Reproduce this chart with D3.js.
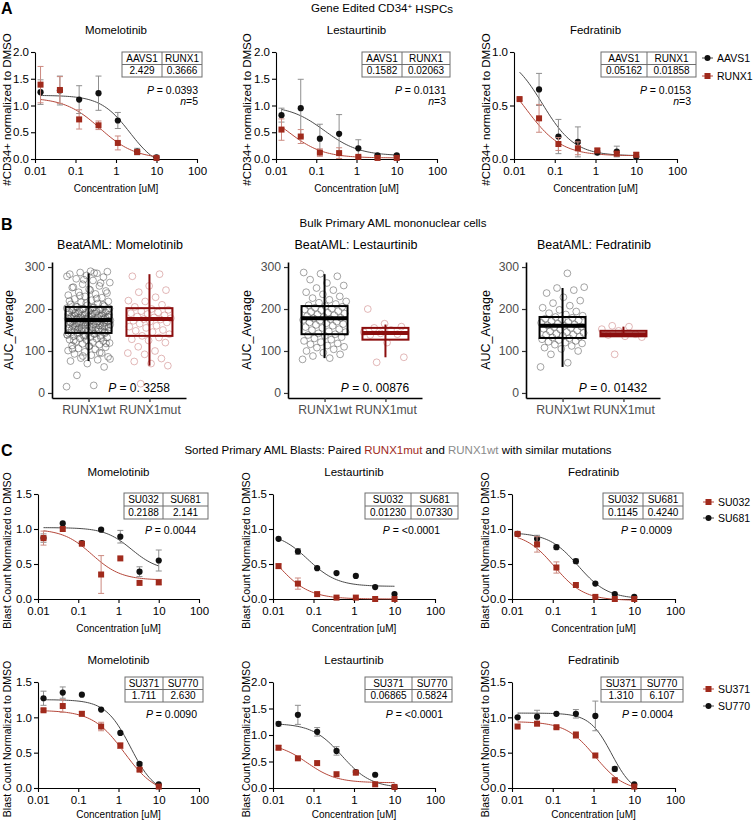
<!DOCTYPE html>
<html lang="en">
<head>
<meta charset="utf-8">
<title>RUNX1 loss and JAK inhibitor sensitivity</title>
<script src="https://cdn.jsdelivr.net/npm/d3@7"></script>
<style>
  body { margin: 0; background: #fff; }
  svg { display: block; font-family: "Liberation Sans", Arial, Helvetica, sans-serif; }
</style>
</head>
<body>
<script>
// ---- data --------------------------------------------------------------
// 3-fold dilution series (uM) shared by every dose-response plot
var conc = [0.0137, 0.0412, 0.123, 0.370, 1.11, 3.33, 10];

// A: gene edited CD34+ HSPCs (mean, sem), AAVS1 = control, RUNX1 = edited
var aavs1Mom = [1.25, 1.28, 1.11, 1.23, 0.72, 0.14, 0.03];
var aavs1MomErr = [0.23, 0.27, 0.26, 0.32, 0.15, 0.06, 0];
var runx1Mom = [1.39, 1.29, 0.74, 0.63, 0.30, 0.13, 0.02];
var runx1MomErr = [0.34, 0.25, 0.18, 0.08, 0.13, 0.04, 0];
var aavs1Les = [0.82, 0.95, 0.38, 0.47, 0.20, 0.07, 0.07];
var aavs1LesErr = [0.13, 0.54, 0.27, 0.36, 0.16, 0.02, 0.02];
var runx1Les = [0.55, 0.42, 0.12, 0.11, 0.04, 0.02, 0.02];
var runx1LesErr = [0.20, 0.13, 0.07, 0.10, 0.02, 0.01, 0.01];
var aavs1Fed = [null, 0.65, 0.21, 0.16, 0.06, 0.07, 0.02];
var aavs1FedErr = [0, 0.15, 0.16, 0.14, 0.02, 0.05, 0.02];
var runx1Fed = [0.56, 0.38, 0.14, 0.10, 0.08, 0.05, 0.04];
var runx1FedErr = [0.01, 0.13, 0.06, 0.06, 0.02, 0.02, 0.02];

// fitted curves: [top, bottom, IC50, hill]
var fitA = {
  aavs1Mom: [1.19, -0.2, 2.2, 1.2], runx1Mom: [1.15, 0, 0.4, 1.0],
  aavs1Les: [1.0, 0.06, 0.16, 1.0], runx1Les: [1.0, 0.02, 0.02, 1.0],
  aavs1Fed: [1.0, 0.03, 0.05, 1.1], runx1Fed: [0.9, 0.03, 0.02, 1.0]
};
var icHeadsA = ["AAVS1", "RUNX1"];
var icMomA = ["2.429", "0.3666"];
var icLesA = ["0.1582", "0.02063"];
var icFedA = ["0.05162", "0.01858"];
var pA = ["0.0393", "0.0131", "0.0153"];
var nA = ["5", "3", "3"];

// B: BeatAML AUC values
var momWt = [15, 18, 42, 62, 70, 76, 79, 83, 86, 90, 93, 95, 98, 101, 104, 106, 109, 111, 113, 115, 117, 119, 121, 122, 124, 126, 127, 129, 130, 132, 133, 135, 136, 137, 139, 140, 141, 142, 143, 144, 146, 147, 148, 149, 151, 152, 153, 154, 155, 156, 158, 159, 160, 161, 162, 163, 164, 166, 167, 168, 169, 170, 171, 172, 173, 174, 175, 176, 177, 178, 179, 180, 182, 183, 184, 185, 186, 188, 189, 190, 191, 193, 194, 195, 196, 198, 199, 200, 201, 202, 204, 205, 207, 209, 211, 213, 216, 218, 221, 224, 227, 230, 233, 236, 240, 243, 247, 251, 255, 259, 263, 268, 272, 276, 280, 283, 285, 287, 289, 290,
  125, 131, 134, 138, 141, 144, 145, 147, 150, 152, 154, 156, 157, 159, 161, 162, 164, 165, 166, 168, 169, 170, 171, 172, 173, 174, 175, 176, 177, 178, 179, 180, 181, 182, 184, 185, 186, 187, 189, 190, 192, 194, 196, 197, 199, 201, 203, 206, 210, 214, 219, 225, 232, 238, 245, 252, 262, 270, 278, 286, 150, 158, 163, 167, 171, 176, 181, 186, 191, 198, 137, 143, 148, 153, 118, 112, 105, 96, 88, 81];
var momMut = [22, 65, 70, 75, 82, 92, 95, 100, 110, 120, 125, 128, 132, 136, 140, 145, 148, 150, 155, 158, 160, 165, 168, 170, 172, 175, 176, 178, 180, 182, 185, 188, 190, 192, 195, 198, 200, 205, 210, 218, 220, 228, 240, 245, 255, 278, 283];
var lesWt = [80, 83, 88, 92, 96, 100, 104, 108, 110, 113, 116, 118, 121, 124, 127, 130, 133, 136, 138, 140, 142, 145, 147, 150, 152, 155, 157, 160, 162, 164, 166, 168, 170, 172, 174, 176, 178, 179, 181, 183, 185, 187, 189, 191, 193, 195, 197, 199, 201, 203, 205, 207, 209, 212, 215, 218, 222, 226, 230, 235, 240, 245, 250, 256, 262, 270, 278, 284, 287];
var lesMut = [73, 85, 120, 138, 140, 142, 145, 150, 155, 158, 165, 200];
var fedWt = [62, 72, 92, 100, 105, 108, 112, 115, 118, 120, 122, 124, 126, 128, 130, 132, 134, 136, 138, 139, 141, 143, 145, 147, 149, 151, 153, 155, 157, 158, 160, 161, 163, 165, 167, 169, 171, 173, 175, 177, 179, 181, 184, 187, 190, 194, 198, 203, 208, 214, 220, 228, 238, 245, 250, 252, 285];
var fedMut = [92, 133, 135, 138, 140, 148, 152, 158, 160];
// box stats: [lower whisker, q1, median, q3, upper whisker]
var momWtBox = [76, 143, 174, 205, 285], momMutBox = [65, 136, 176, 202, 283];
var lesWtBox = [83, 140, 178, 207, 283], lesMutBox = [85, 127, 143, 155, 163];
var fedWtBox = [62, 131, 160, 181, 250], fedMutBox = [135, 135, 140, 148, 158];
var groupsB = ["RUNX1wt", "RUNX1mut"];
var pB = ["0. 3258", "0. 00876", "0. 01432"];

// C: sorted AML blasts, pair 1 (SU032 mut / SU681 wt), pair 2 (SU371 mut / SU770 wt)
var su032Mom = [0.87, 1.00, 0.79, 0.35, 0.58, 0.23, 0.24], su032MomErr = [0.10, 0, 0.02, 0.27, 0, 0, 0.04];
var su681Mom = [0.87, 1.08, 0.80, 0.99, 0.89, 0.39, 0.55], su681MomErr = [0.06, 0, 0.02, 0.02, 0.09, 0.07, 0.15];
var su032Les = [0.47, 0.22, 0.07, 0.02, 0.02, 0.0, 0.0], su032LesErr = [0.03, 0.08, 0, 0, 0, 0, 0];
var su681Les = [0.86, 0.68, 0.44, 0.37, 0.33, 0.17, 0.07], su681LesErr = [0, 0.04, 0, 0, 0, 0, 0];
var su032Fed = [0.93, 0.78, 0.45, 0.20, 0.03, 0.0, 0.0], su032FedErr = [0.02, 0.11, 0.08, 0, 0, 0, 0];
var su681Fed = [0.93, 0.86, 0.74, 0.54, 0.22, 0.07, 0.03], su681FedErr = [0.02, 0.05, 0.03, 0.03, 0, 0, 0];
var su371Mom = [1.10, 1.16, 1.05, 0.87, 0.60, 0.26, 0.02], su371MomErr = [0.02, 0.09, 0.03, 0.06, 0.04, 0.02, 0];
var su770Mom = [1.27, 1.35, 1.32, 1.11, 0.78, 0.34, 0.05], su770MomErr = [0.10, 0.08, 0, 0, 0, 0.02, 0];
var su371Les = [0.76, 0.56, 0.47, 0.26, 0.29, 0.07, 0.02], su371LesErr = [0.04, 0, 0, 0, 0.04, 0, 0];
var su770Les = [1.21, 1.38, 1.06, 0.70, 0.30, 0.25, 0.02], su770LesErr = [0.04, 0.18, 0.08, 0.08, 0, 0, 0];
var su371Fed = [0.87, 0.91, 0.86, 0.75, 0.46, 0.11, 0.02], su371FedErr = [0, 0, 0.02, 0.05, 0, 0, 0];
var su770Fed = [1.00, 1.01, 1.05, 1.05, 1.02, 0.27, 0.05], su770FedErr = [0, 0.09, 0, 0.06, 0.21, 0.03, 0];
var fitC = {
  su681Mom: [1.02, 0.4, 2.1, 1.3], su032Mom: [1.0, 0.27, 0.22, 1.2],
  su681Les: [0.95, 0.18, 0.073, 1.2], su032Les: [1.0, 0, 0.0123, 1.1],
  su681Fed: [0.95, 0, 0.42, 1.2], su032Fed: [0.95, -0.02, 0.11, 1.2],
  su770Mom: [1.25, -0.1, 2.0, 1.4], su371Mom: [1.1, -0.1, 1.4, 1.1],
  su770Les: [1.22, 0, 0.5, 1.2], su371Les: [0.85, 0.1, 0.07, 1.2],
  su770Fed: [1.06, -0.1, 2.8, 1.6], su371Fed: [0.94, -0.05, 1.1, 1.2]
};
var icHeadsC1 = ["SU032", "SU681"], icHeadsC2 = ["SU371", "SU770"];
var icMomC1 = ["0.2188", "2.141"], icLesC1 = ["0.01230", "0.07330"], icFedC1 = ["0.1145", "0.4240"];
var icMomC2 = ["1.711", "2.630"], icLesC2 = ["0.06865", "0.5824"], icFedC2 = ["1.310", "6.107"];
var pC1 = ["0.0044", "<0.0001", "0.0009"];
var pC2 = ["0.0090", "<0.0001", "0.0004"];
var drugs = ["Momelotinib", "Lestaurtinib", "Fedratinib"];

// ---- style -------------------------------------------------------------
var RED = "#a02a1c", RED_LINE = "#b5473a", RED_ERR = "#cc8a80";
var BLK = "#111111", BLK_LINE = "#4a4a4a", BLK_ERR = "#8f8f8f";

var svg = d3.select("body").append("svg")
    .attr("width", 754)
    .attr("height", 822);

function fourPL(p) {
  return function(x) { return p[1] + (p[0] - p[1]) / (1 + Math.pow(x / p[2], p[3])); };
}

// italic symbol followed by plain text, e.g. "P = 0.01"
function italicLabel(sel, label, value) {
  sel.append("tspan").style("font-style", "italic").text(label);
  sel.append("tspan").text(value);
}

// dose-response plot in GraphPad style
function doseChart(o) {
  var x = d3.scaleLog().domain([0.01, 100]).range([o.x0, o.x1]);
  var y = d3.scaleLinear().domain([0, o.yMax]).range([o.yb, o.yt]);
  var g = svg.append("g");

  var xa = g.append("g").attr("transform", "translate(0," + o.yb + ")")
      .call(d3.axisBottom(x).tickValues([0.01, 0.1, 1, 10, 100])
        .tickFormat(function(d) { return String(d); }).tickSize(4).tickPadding(2).tickSizeOuter(0));
  var ya = g.append("g").attr("transform", "translate(" + o.x0 + ",0)")
      .call(d3.axisLeft(y).tickValues(o.yTicks).tickFormat(d3.format(".1f")).tickSize(4).tickPadding(2).tickSizeOuter(0));
  [xa, ya].forEach(function(a) {
    a.selectAll("path, line").attr("stroke", "#000").attr("stroke-width", 1.1);
    a.selectAll("text").attr("fill", "#000").style("font-size", "11.5px").style("font-family", "inherit");
  });
  xa.selectAll("text").attr("dy", "0.9em");

  g.append("text").attr("x", (o.x0 + o.x1) / 2).attr("y", o.yt - 18)
    .attr("text-anchor", "middle").style("font-size", "11.5px").text(o.title);
  g.append("text").attr("x", (o.x0 + o.x1) / 2).attr("y", o.yb + o.xlabOff)
    .attr("text-anchor", "middle").style("font-size", "10px").text("Concentration [uM]");
  g.append("text").attr("transform", "translate(" + o.ylabX + "," + ((o.yt + o.yb) / 2 + 4) + ") rotate(-90)")
    .attr("text-anchor", "middle").style("font-size", o.ylabSize).text(o.ylab);

  // fitted curves
  var xs = d3.range(0, 61).map(function(i) {
    return Math.pow(10, Math.log10(conc[0]) + i / 60 * (1 - Math.log10(conc[0])));
  });
  o.series.forEach(function(s) {
    var f = fourPL(s.fit);
    g.append("path")
      .datum(xs)
      .attr("fill", "none")
      .attr("stroke", s.red ? RED_LINE : BLK_LINE)
      .attr("stroke-width", 1)
      .attr("d", d3.line().x(function(d) { return x(d); }).y(function(d) { return y(Math.max(f(d), -0.02)); }));
  });

  // error bars then markers
  o.series.forEach(function(s) {
    var pts = conc.map(function(c, i) { return {c: c, v: s.mean[i], e: s.err[i]}; })
      .filter(function(d) { return d.v !== null; });
    var eb = g.append("g").attr("stroke", s.red ? RED_ERR : BLK_ERR).attr("stroke-width", 1);
    pts.filter(function(d) { return d.e > 0; }).forEach(function(d) {
      var cx = x(d.c), y1 = y(Math.max(d.v - d.e, 0)), y2 = y(d.v + d.e);
      eb.append("line").attr("x1", cx).attr("x2", cx).attr("y1", y1).attr("y2", y2);
      eb.append("line").attr("x1", cx - 3).attr("x2", cx + 3).attr("y1", y1).attr("y2", y1);
      eb.append("line").attr("x1", cx - 3).attr("x2", cx + 3).attr("y1", y2).attr("y2", y2);
    });
    if (s.red) {
      g.selectAll(null).data(pts).enter().append("rect")
        .attr("x", function(d) { return x(d.c) - 3; })
        .attr("y", function(d) { return y(d.v) - 3; })
        .attr("width", 6).attr("height", 6).attr("fill", RED);
    } else {
      g.selectAll(null).data(pts).enter().append("circle")
        .attr("cx", function(d) { return x(d.c); })
        .attr("cy", function(d) { return y(d.v); })
        .attr("r", 3.1).attr("fill", BLK);
    }
  });

  // IC50 table
  var tb = g.append("g").attr("transform", "translate(" + o.tx + "," + o.ty + ")");
  var tw = o.tw[0] + o.tw[1], th = o.th;
  tb.append("rect").attr("width", tw).attr("height", th).attr("fill", "#fff")
    .attr("stroke", "#6e6e6e").attr("stroke-width", 1);
  tb.append("line").attr("x1", o.tw[0]).attr("x2", o.tw[0]).attr("y1", 0).attr("y2", th).attr("stroke", "#6e6e6e");
  tb.append("line").attr("x1", 0).attr("x2", tw).attr("y1", th / 2).attr("y2", th / 2).attr("stroke", "#6e6e6e");
  [o.heads, o.vals].forEach(function(row, r) {
    row.forEach(function(t, c) {
      tb.append("text")
        .attr("x", c === 0 ? o.tw[0] / 2 : o.tw[0] + o.tw[1] / 2)
        .attr("y", th / 4 + r * th / 2)
        .attr("dy", "0.36em").attr("text-anchor", "middle")
        .style("font-size", "10px").text(t);
    });
  });

  var pt = g.append("text").attr("x", o.pX).attr("y", o.pY).attr("dy", "0.35em")
    .attr("text-anchor", "end").style("font-size", "10.5px");
  italicLabel(pt, "P", " = " + o.p);
  if (o.n) {
    var nt = g.append("text").attr("x", o.pX).attr("y", o.pY + 11).attr("dy", "0.35em")
      .attr("text-anchor", "end").style("font-size", "10.5px");
    italicLabel(nt, "n", "=" + o.n);
  }
}

function legend(x, y, items) {
  items.forEach(function(it, i) {
    var g = svg.append("g").attr("transform", "translate(" + x + "," + (y + i * it.dy) + ")");
    g.append("line").attr("x1", 0).attr("x2", 11).attr("stroke", it.red ? RED_LINE : BLK_LINE);
    if (it.red) g.append("rect").attr("x", 2.5).attr("y", -3).attr("width", 6).attr("height", 6).attr("fill", RED);
    else g.append("circle").attr("cx", 5.5).attr("r", 3).attr("fill", BLK);
    g.append("text").attr("x", 15).attr("dy", "0.36em").style("font-size", "10.5px").text(it.label);
  });
}

// ---- panel A -----------------------------------------------------------
svg.append("text").attr("x", 1).attr("y", 14).style("font-size", "16px").style("font-weight", "bold").text("A");
var ta = svg.append("text").attr("x", 382).attr("y", 12).attr("text-anchor", "middle").style("font-size", "11.5px");
ta.append("tspan").text("Gene Edited CD34");
ta.append("tspan").attr("dy", "-0.4em").style("font-size", "8px").text("+");
ta.append("tspan").attr("dy", "0.4em").text(" HSPCs");

var colsA = [[35, 197], [276, 437], [514, 677]];
var aData = [
  {a: aavs1Mom, ae: aavs1MomErr, r: runx1Mom, re: runx1MomErr, fa: fitA.aavs1Mom, fr: fitA.runx1Mom, ic: icMomA, yMax: 2, tx: 122, tw: [40, 40], pX: 198},
  {a: aavs1Les, ae: aavs1LesErr, r: runx1Les, re: runx1LesErr, fa: fitA.aavs1Les, fr: fitA.runx1Les, ic: icLesA, yMax: 2, tx: 362, tw: [40, 48], pX: 446},
  {a: aavs1Fed, ae: aavs1FedErr, r: runx1Fed, re: runx1FedErr, fa: fitA.aavs1Fed, fr: fitA.runx1Fed, ic: icFedA, yMax: 1, tx: 601, tw: [46, 49], pX: 691}
];
aData.forEach(function(d, i) {
  doseChart({
    x0: colsA[i][0], x1: colsA[i][1], yt: 52, yb: 159, yMax: d.yMax, xlabOff: 33,
    yTicks: d.yMax === 2 ? [0, 0.5, 1, 1.5, 2] : [0, 0.5, 1],
    title: drugs[i], ylab: "#CD34+ normalized to DMSO", ylabX: [11, 251, 490][i], ylabSize: "11.5px",
    series: [{mean: d.a, err: d.ae, fit: d.fa, red: false}, {mean: d.r, err: d.re, fit: d.fr, red: true}],
    heads: icHeadsA, vals: d.ic, tx: d.tx, ty: 52, tw: d.tw, th: 25,
    p: pA[i], n: nA[i], pX: d.pX, pY: 90
  });
});
legend(702, 58, [{label: "AAVS1", red: false, dy: 18}, {label: "RUNX1", red: true, dy: 18}]);

// ---- panel B -----------------------------------------------------------
svg.append("text").attr("x", 1).attr("y", 230).style("font-size", "16px").style("font-weight", "bold").text("B");
svg.append("text").attr("x", 393).attr("y", 227).attr("text-anchor", "middle").style("font-size", "11.5px")
  .text("Bulk Primary AML mononuclear cells");

var yB = d3.scaleLinear().domain([-12, 312]).range([398, 262]);
var bData = [
  {x0: 52, wt: momWt, mut: momMut, boxes: [momWtBox, momMutBox], labX: 13},
  {x0: 288, wt: lesWt, mut: lesMut, boxes: [lesWtBox, lesMutBox], labX: 251},
  {x0: 526, wt: fedWt, mut: fedMut, boxes: [fedWtBox, fedMutBox], labX: 490}
];
bData.forEach(function(d, i) {
  var x = d3.scalePoint().domain(groupsB).range([d.x0, d.x0 + 134]).padding(0.6);
  var g = svg.append("g");
  var xa = g.append("g").attr("transform", "translate(0,398)")
    .call(d3.axisBottom(x).tickSize(4).tickSizeOuter(0));
  var ya = g.append("g").attr("transform", "translate(" + d.x0 + ",0)")
    .call(d3.axisLeft(yB).tickValues([0, 100, 200, 300]).tickSize(4).tickSizeOuter(0));
  [xa, ya].forEach(function(a) {
    a.select(".domain").attr("stroke", "#000").attr("stroke-width", 1.6);
    a.selectAll(".tick line").attr("stroke", "#333").attr("stroke-width", 1.2);
    a.selectAll("text").attr("fill", "#4d4d4d").style("font-size", "12.2px").style("font-family", "inherit");
  });

  g.append("text").attr("x", d.x0 + 68).attr("y", 249).attr("text-anchor", "middle")
    .style("font-size", "12.5px").text("BeatAML: " + drugs[i]);
  g.append("text").attr("transform", "translate(" + d.labX + ",330) rotate(-90)")
    .attr("text-anchor", "middle").style("font-size", "12.5px").text("AUC_Average");

  [d.wt, d.mut].forEach(function(vals, k) {
    var cx = x(groupsB[k]);
    var col = k === 0 ? "#000" : "#8b0d0d";
    // jittered raw values (spread by golden-ratio sequence)
    g.selectAll(null).data(vals).enter().append("circle")
      .attr("cx", function(v, j) { return cx + (((j * 0.618034 + k * 0.3) % 1) - 0.5) * 44; })
      .attr("cy", function(v) { return yB(v); })
      .attr("r", 3.4)
      .attr("fill", "none")
      .attr("stroke", k === 0 ? "#555" : "#c97a7a")
      .attr("stroke-opacity", 0.6)
      .attr("stroke-width", 0.9);
    var b = d.boxes[k];
    g.append("line").attr("x1", cx).attr("x2", cx).attr("y1", yB(b[0])).attr("y2", yB(b[4]))
      .attr("stroke", col).attr("stroke-width", 2);
    g.append("rect").attr("x", cx - 23).attr("width", 46)
      .attr("y", yB(b[3])).attr("height", yB(b[1]) - yB(b[3]))
      .attr("fill", "none").attr("stroke", col).attr("stroke-width", 2);
    g.append("line").attr("x1", cx - 23).attr("x2", cx + 23).attr("y1", yB(b[2])).attr("y2", yB(b[2]))
      .attr("stroke", col).attr("stroke-width", 4);
  });

  var pt = g.append("text").attr("x", d.x0 + 87).attr("y", 392).attr("text-anchor", "middle").style("font-size", "12px");
  italicLabel(pt, "P", " = " + pB[i]);
});

// ---- panel C -----------------------------------------------------------
svg.append("text").attr("x", 1).attr("y", 456).style("font-size", "16px").style("font-weight", "bold").text("C");
var tc = svg.append("text").attr("x", 398).attr("y", 454).attr("text-anchor", "middle").style("font-size", "11.5px");
tc.append("tspan").text("Sorted Primary AML Blasts: Paired ");
tc.append("tspan").attr("fill", "#a02a1c").text("RUNX1mut");
tc.append("tspan").text(" and ");
tc.append("tspan").attr("fill", "#8a8a8a").text("RUNX1wt");
tc.append("tspan").text(" with similar mutations");

var colsC = [[38, 199], [273, 435], [512, 675]];
var cRows = [
  {yt: 494, yb: 599, ty: 493, th: 26, pY: 530, xlabOff: 33, heads: icHeadsC1, ps: pC1,
   charts: [
     {m: su032Mom, me: su032MomErr, w: su681Mom, we: su681MomErr, fm: fitC.su032Mom, fw: fitC.su681Mom, ic: icMomC1, yMax: 1.5, tx: 124, tw: [39, 45], pX: 196},
     {m: su032Les, me: su032LesErr, w: su681Les, we: su681LesErr, fm: fitC.su032Les, fw: fitC.su681Les, ic: icLesC1, yMax: 1.5, tx: 365, tw: [46, 47], pX: 440},
     {m: su032Fed, me: su032FedErr, w: su681Fed, we: su681FedErr, fm: fitC.su032Fed, fw: fitC.su681Fed, ic: icFedC1, yMax: 1.5, tx: 603, tw: [40, 40], pX: 672}
   ]},
  {yt: 682, yb: 788, ty: 677, th: 25, pY: 714, xlabOff: 30, heads: icHeadsC2, ps: pC2,
   charts: [
     {m: su371Mom, me: su371MomErr, w: su770Mom, we: su770MomErr, fm: fitC.su371Mom, fw: fitC.su770Mom, ic: icMomC2, yMax: 1.5, tx: 125, tw: [38, 40], pX: 197},
     {m: su371Les, me: su371LesErr, w: su770Les, we: su770LesErr, fm: fitC.su371Les, fw: fitC.su770Les, ic: icLesC2, yMax: 2, tx: 365, tw: [47, 40], pX: 443},
     {m: su371Fed, me: su371FedErr, w: su770Fed, we: su770FedErr, fm: fitC.su371Fed, fw: fitC.su770Fed, ic: icFedC2, yMax: 1.5, tx: 601, tw: [40, 42], pX: 673}
   ]}
];
cRows.forEach(function(row) {
  row.charts.forEach(function(d, i) {
    doseChart({
      x0: colsC[i][0], x1: colsC[i][1], yt: row.yt, yb: row.yb, yMax: d.yMax, xlabOff: row.xlabOff,
      yTicks: d.yMax === 2 ? [0, 0.5, 1, 1.5, 2] : [0, 0.5, 1, 1.5],
      title: drugs[i], ylab: "Blast Count Normalized to DMSO", ylabX: [11, 250, 489][i], ylabSize: "10.5px",
      series: [{mean: d.w, err: d.we, fit: d.fw, red: false}, {mean: d.m, err: d.me, fit: d.fm, red: true}],
      heads: row.heads, vals: d.ic, tx: d.tx, ty: row.ty, tw: d.tw, th: row.th,
      p: row.ps[i], pX: d.pX, pY: row.pY
    });
  });
});
legend(703, 502, [{label: "SU032", red: true, dy: 16}, {label: "SU681", red: false, dy: 16}]);
legend(703, 689, [{label: "SU371", red: true, dy: 17}, {label: "SU770", red: false, dy: 17}]);
</script>
</body>
</html>
